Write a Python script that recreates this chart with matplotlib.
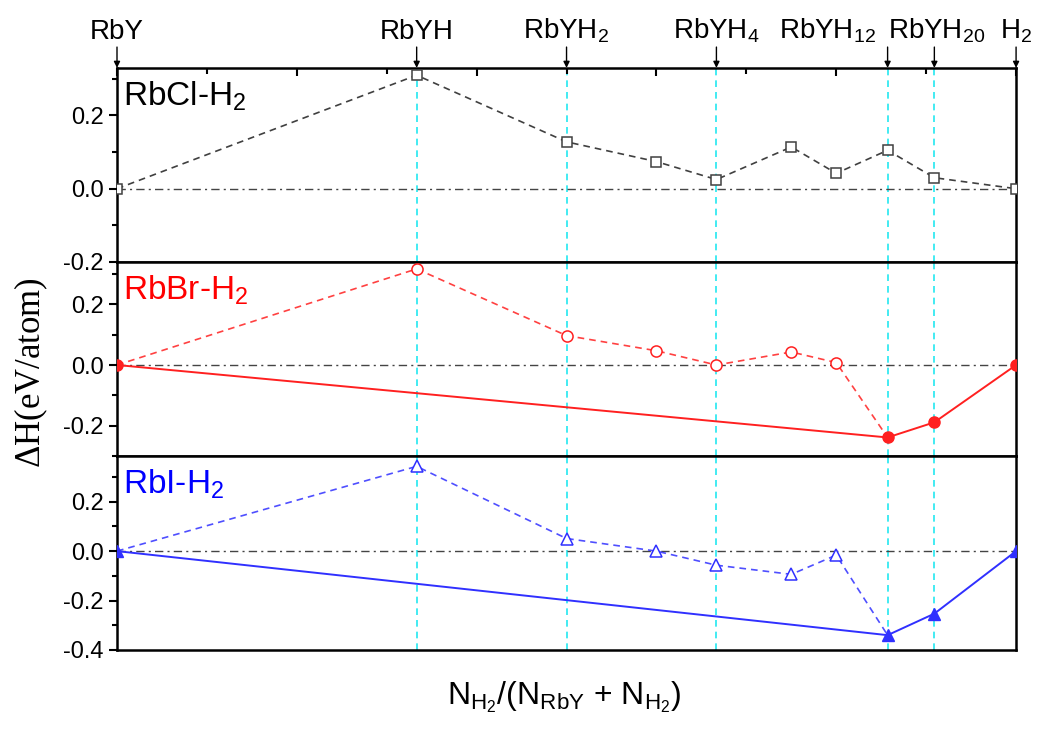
import numpy as np
import matplotlib
matplotlib.use('Agg')
import matplotlib.pyplot as plt
from matplotlib.ticker import MultipleLocator

plt.rcParams['font.family'] = ['Liberation Sans', 'DejaVu Sans']
plt.rcParams['mathtext.default'] = 'regular'

# composition N_H2/(N_RbY + N_H2)
x_frac = [0.0, 0.3333, 0.5, 0.6, 0.6667, 0.75, 0.8, 0.8571, 0.9091, 1.0]

# formation enthalpies (eV/atom)
rbcl_dH = [0.0, 0.310, 0.128, 0.074, 0.025, 0.114, 0.042, 0.105, 0.030, 0.0]
rbbr_dH = [0.0, 0.317, 0.097, 0.047, 0.0, 0.043, 0.008, -0.239, -0.189, 0.0]
rbi_dH = [0.0, 0.343, 0.051, 0.0, -0.057, -0.094, -0.016, -0.340, -0.253, 0.0]

# points on the convex hull (index into x_frac)
hull_idx = [0, 7, 8, 9]

phase_names = ['RbY', 'RbYH', 'RbYH$_2$', 'RbYH$_4$', 'RbYH$_{12}$', 'RbYH$_{20}$', 'H$_2$']
phase_x = [0.0, 0.3333, 0.5, 0.6667, 0.8571, 0.9091, 1.0]
label_x = [0.0, 0.3333, 0.5, 0.6667, 0.79, 0.912, 1.0]

panel_names = ['RbCl-H$_2$', 'RbBr-H$_2$', 'RbI-H$_2$']
panel_colors = ['black', '#ff0000', '#0000ff']
ylims = [(-0.2, 0.33), (-0.3, 0.34), (-0.4, 0.385)]

fig = plt.figure(figsize=(10.4, 7.3), dpi=100)
gs = fig.add_gridspec(3, 1, left=0.1125, right=0.977, top=0.907, bottom=0.1096, hspace=0)
axes = [fig.add_subplot(gs[i]) for i in range(3)]

dash = (0, (4, 3))
x = np.array(x_frac)

for ax, ylim in zip(axes, ylims):
    ax.set_xlim(0, 1)
    ax.set_ylim(*ylim)
    for xv in phase_x[1:-1]:
        ax.axvline(xv, color='#22e8f0', ls=(0, (4, 3)), lw=1.2, zorder=1)
    ax.axhline(0, color='#444444', ls=(0, (6, 3, 1.5, 3)), lw=1, zorder=1)
    for s in ax.spines.values():
        s.set_linewidth(1.8)
    ax.yaxis.set_major_locator(MultipleLocator(0.2))
    ax.yaxis.set_minor_locator(MultipleLocator(0.1))
    ax.tick_params(axis='y', which='major', direction='out', length=6, width=1.5,
                   labelsize=17, right=False)
    ax.tick_params(axis='y', which='minor', direction='out', length=3.5, width=1.5, right=False)
    ax.tick_params(axis='x', which='both', bottom=False, top=False, labelbottom=False)
    ax.yaxis.set_major_formatter(matplotlib.ticker.FormatStrFormatter('%.1f'))

# top panel x ticks pointing inward on the top spine
top = axes[0]
top.xaxis.set_major_locator(MultipleLocator(0.2))
top.xaxis.set_minor_locator(MultipleLocator(0.1))
top.tick_params(axis='x', which='major', top=True, direction='in', length=6, width=1.5)
top.tick_params(axis='x', which='minor', top=True, direction='in', length=4, width=1.5)

# RbCl: all dashed, open squares
axes[0].plot(x, rbcl_dH, ls=dash, color='#404040', lw=1.2, marker='s', ms=7,
             mfc='white', mec='#404040', mew=1.1, zorder=3)

# RbBr and RbI: dashed metastable branch + solid hull
for ax, dH, col, mk in [(axes[1], rbbr_dH, '#ff2020', 'o'), (axes[2], rbi_dH, '#3030ff', '^')]:
    dH = np.array(dH)
    ax.plot(x[:8], dH[:8], ls=dash, color=col, lw=1.2, alpha=0.85, zorder=2)
    ax.plot(x[1:7], dH[1:7], ls='none', marker=mk, ms=8, mfc='white', mec=col,
            mew=1.1, zorder=3)
    ax.plot(x[hull_idx], dH[hull_idx], ls='-', color=col, lw=1.4, marker=mk, ms=8,
            mfc=col, mec=col, zorder=4)

for ax, name, col in zip(axes, panel_names, panel_colors):
    ax.text(0.007, 0.94, name, transform=ax.transAxes, ha='left', va='top',
            fontsize=24, color=col)

# phase arrows and labels above the top panel
for xv, lx, name in zip(phase_x, label_x, phase_names):
    top.annotate('', xy=(xv, 1.0), xycoords=('data', 'axes fraction'),
                 xytext=(0, 15), textcoords='offset points',
                 arrowprops=dict(arrowstyle='-|>', color='black', lw=1,
                                 mutation_scale=9, shrinkA=0, shrinkB=0),
                 annotation_clip=False)
    top.annotate(name, xy=(lx, 1.0), xycoords=('data', 'axes fraction'),
                 xytext=(0, 21), textcoords='offset points', ha='center',
                 va='baseline', fontsize=20, annotation_clip=False)

fig.text(0.03, 0.49, r'$\Delta$H(eV/atom)', rotation=90, ha='center', va='center',
         fontsize=25, family=['Liberation Serif', 'DejaVu Serif'])
fig.text(0.543, 0.045, r'N$_{H_2}$/(N$_{RbY}$ + N$_{H_2}$)', ha='center', va='center',
         fontsize=23)

fig.savefig('out.png', dpi=100)
